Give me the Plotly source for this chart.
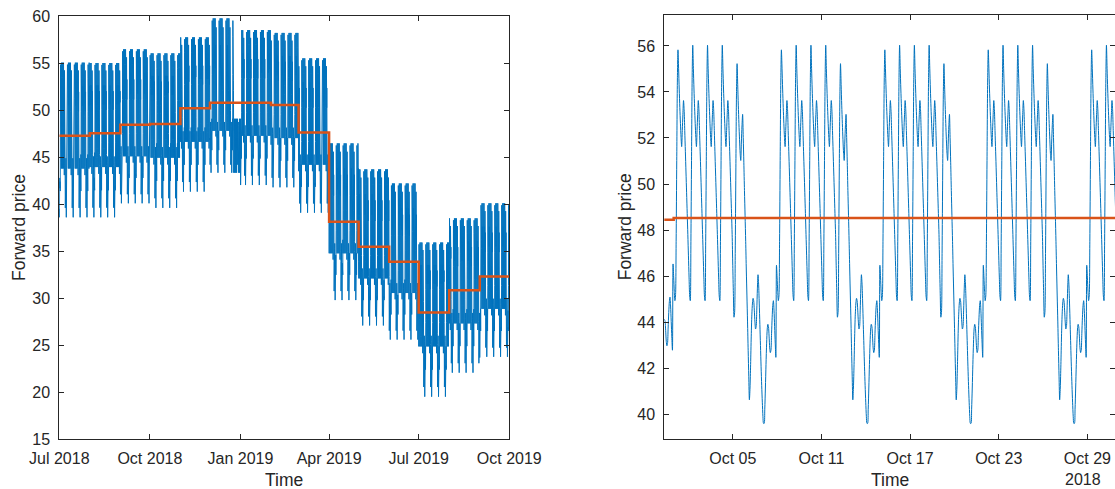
import numpy as np
import pandas as pd
import plotly.graph_objects as go

# ---------------- data ----------------
# monthly average forward price (orange step line), Jul 2018 .. Sep 2019
month_starts = ["2018-07-01", "2018-08-01", "2018-09-01", "2018-10-01", "2018-11-01",
                "2018-12-01", "2019-01-01", "2019-02-01", "2019-03-01", "2019-04-01",
                "2019-05-01", "2019-06-01", "2019-07-01", "2019-08-01", "2019-09-01"]
series_end = "2019-10-01"
month_mean = [47.27, 47.53, 48.45, 48.52, 50.19, 50.79, 50.79, 50.54, 47.62, 38.12,
              35.47, 33.88, 28.47, 30.85, 32.30]
# monthly highest / lowest hourly price
month_max = [55.04, 55.00, 56.46, 56.03, 57.73, 59.75, 58.50, 58.20, 55.50, 46.46,
             43.70, 42.20, 35.92, 38.49, 40.09]
month_min = [38.60, 38.60, 40.09, 39.60, 41.33, 43.34, 42.03, 41.79, 39.09, 29.80,
             27.10, 25.60, 19.53, 22.08, 23.77]

# hourly shape of a week (hours 0..23), read from the October 2018 zoom
mon = [46.0, 45.4, 45.0, 45.2, 47.5, 51.0, 54.4, 55.8, 55.0, 54.1, 53.3, 52.6,
       52.0, 51.6, 52.3, 53.0, 53.6, 53.2, 52.3, 51.4, 50.5, 49.6, 48.7, 47.8]
tue = [46.9, 46.0, 45.2, 45.0, 47.5, 51.0, 54.5, 56.0, 55.0, 54.1, 53.3, 52.6,
       52.0, 51.6, 52.3, 53.0, 53.6, 53.2, 52.3, 51.4, 50.5, 49.6, 48.7, 47.8]
wed = [46.9, 46.0, 45.2, 45.0, 47.5, 51.0, 54.5, 56.0, 55.0, 54.1, 53.3, 52.6,
       52.0, 51.6, 52.3, 53.0, 53.6, 53.2, 52.3, 51.4, 50.5, 49.6, 48.7, 47.8]
thu = [46.9, 46.0, 45.2, 45.0, 47.5, 51.0, 54.5, 56.0, 55.0, 54.1, 53.3, 52.6,
       52.0, 51.6, 52.3, 53.0, 53.6, 53.2, 52.3, 51.4, 50.5, 49.6, 48.7, 47.8]
fri = [46.5, 45.3, 44.3, 44.5, 47.0, 50.5, 53.8, 55.2, 54.3, 53.4, 52.6, 51.9,
       51.3, 51.0, 51.8, 52.5, 53.0, 52.0, 50.9, 49.7, 48.6, 47.5, 46.3, 45.2]
sat = [44.1, 42.9, 41.8, 40.8, 41.3, 42.3, 43.5, 44.4, 44.9, 45.1, 45.0, 44.6,
       44.1, 43.8, 43.9, 44.6, 45.5, 46.1, 45.7, 44.9, 44.0, 43.1, 42.2, 41.4]
sun = [40.7, 40.1, 39.8, 39.8, 40.4, 41.3, 42.3, 43.2, 43.8, 44.0, 43.9, 43.5,
       43.0, 42.8, 42.9, 43.6, 44.3, 44.8, 45.0, 44.6, 43.9, 43.2, 42.6, 46.5]
shape_level = 48.5   # monthly level the weekly shape above was read against
# holiday days that follow the Sunday shape (Christmas week)
holidays = ["2018-12-25", "2018-12-26", "2018-12-27", "2018-12-28", "2018-12-31", "2019-01-01"]

left_ticks = ["2018-07-01", "2018-10-01", "2019-01-01", "2019-04-01", "2019-07-01", "2019-10-01"]
left_ticktext = ["Jul 2018", "Oct 2018", "Jan 2019", "Apr 2019", "Jul 2019", "Oct 2019"]
right_ticks = ["2018-10-05", "2018-10-11", "2018-10-17", "2018-10-23", "2018-10-29"]
right_ticktext = ["Oct 05", "Oct 11", "Oct 17", "Oct 23", "Oct 29"]
zoom_start, zoom_end = "2018-09-30 08:47", "2018-10-30 20:53"

# ---------------- build hourly curve ----------------
hours = pd.date_range("2018-07-01 00:00", "2019-09-30 23:00", freq="h")
profiles = np.array([mon, tue, wed, thu, fri, sat, sun])
dow = np.array(hours.dayofweek)
is_hol = np.isin(np.array(hours.normalize()), pd.to_datetime(holidays).values)
dow[is_hol] = 6
p = profiles[dow, hours.hour]
mi = (hours.year - 2018) * 12 + hours.month - 7
mean_a, max_a, min_a = map(np.array, (month_mean, month_max, month_min))
pos_scale = (max_a - mean_a) / (profiles.max() - shape_level)
neg_scale = (mean_a - min_a) / (shape_level - profiles.min())
off = p - shape_level
price = np.where(off >= 0, mean_a[mi] + off * pos_scale[mi], mean_a[mi] + off * neg_scale[mi])

step_x = month_starts + [series_end]
step_y = month_mean + [month_mean[-1]]

zmask = (hours >= pd.Timestamp("2018-09-30 09:00")) & (hours <= pd.Timestamp("2018-10-31 23:00"))

BLUE = "#0072BD"
ORANGE = "#D95319"
INK = "#262626"
FONT = "Liberation Sans, Arial, sans-serif"
W, H = 1115, 489

fig = go.Figure()
fig.add_trace(go.Scatter(x=hours, y=price, mode="lines", line=dict(color=BLUE, width=1),
                         xaxis="x", yaxis="y", showlegend=False, hoverinfo="skip"))
fig.add_trace(go.Scatter(x=step_x, y=step_y, mode="lines", line=dict(color=ORANGE, width=2.5, shape="hv"),
                         xaxis="x", yaxis="y", showlegend=False))
fig.add_trace(go.Scatter(x=hours[zmask], y=price[zmask], mode="lines",
                         line=dict(color=BLUE, width=1, shape="spline", smoothing=0.8),
                         xaxis="x2", yaxis="y2", showlegend=False, hoverinfo="skip"))
fig.add_trace(go.Scatter(x=step_x, y=step_y, mode="lines", line=dict(color=ORANGE, width=2.5, shape="hv"),
                         xaxis="x2", yaxis="y2", showlegend=False))

axis_common = dict(showline=True, linecolor=INK, linewidth=1, mirror="ticks", ticks="inside",
                   ticklen=5, tickcolor=INK, tickwidth=1, showgrid=False, zeroline=False,
                   tickfont=dict(family=FONT, size=16, color=INK), automargin=False)

fig.update_layout(
    width=W, height=H, margin=dict(l=0, r=0, t=0, b=0),
    paper_bgcolor="white", plot_bgcolor="white",
    xaxis=dict(axis_common, type="date", domain=[59.3 / W, 509.3 / W],
               range=["2018-07-01", "2019-10-01"], tickmode="array",
               tickvals=left_ticks, ticktext=left_ticktext, anchor="y", ticklabelstandoff=4),
    yaxis=dict(axis_common, domain=[(H - 439.3) / H, (H - 16) / H], range=[15, 60],
               tickmode="array", tickvals=list(range(15, 61, 5)), anchor="x", ticklabelstandoff=5),
    xaxis2=dict(axis_common, type="date", domain=[664.3 / W, 1.0],
                range=[zoom_start, zoom_end], tickmode="array",
                tickvals=right_ticks, ticktext=right_ticktext, anchor="y2", ticklabelstandoff=4),
    yaxis2=dict(axis_common, domain=[(H - 439.3) / H, (H - 15.3) / H], range=[38.91, 57.33],
                tickmode="array", tickvals=list(range(40, 57, 2)), anchor="x2", ticklabelstandoff=5),
)

title_font = dict(family=FONT, size=17.5, color=INK)
ann = [
    dict(text="Forward price", x=18.3 / W, y=(H - 227.7) / H, textangle=-90, font=title_font),
    dict(text="Forward price", x=625 / W, y=(H - 227.3) / H, textangle=-90, font=title_font),
    dict(text="Time", x=284.3 / W, y=(H - 480) / H, font=title_font),
    dict(text="Time", x=889.6 / W, y=(H - 480) / H, font=title_font),
    dict(text="2018", x=1083.3 / W, y=(H - 479.5) / H, font=dict(family=FONT, size=16, color=INK)),
]
for a in ann:
    fig.add_annotation(xref="paper", yref="paper", showarrow=False, xanchor="center",
                       yanchor="middle", **a)

fig.write_html("out.html")
